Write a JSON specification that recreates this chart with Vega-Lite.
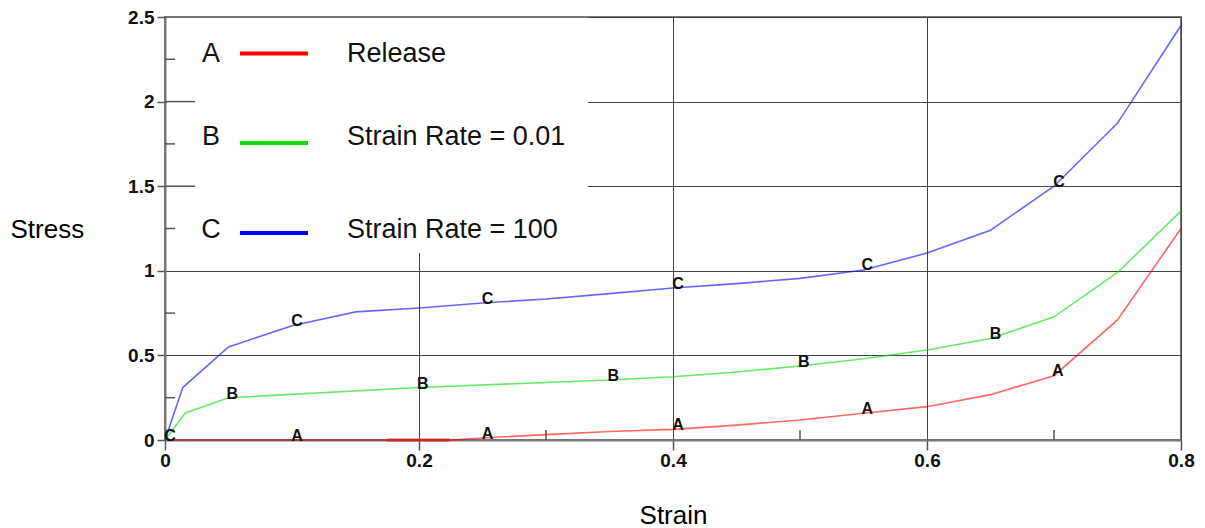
{
  "$schema": "https://vega.github.io/schema/vega-lite/v6.json",
  "width": 1016,
  "height": 423,
  "autosize": {"type": "none"},
  "padding": {"left": 165, "top": 17, "right": 24, "bottom": 88},
  "background": "white",
  "config": {
    "font": "Liberation Sans",
    "view": {"stroke": "#777", "strokeWidth": 2}
  },
  "datasets": {
    "curves": [
      {"series": "A", "x": 0, "y": 0},
      {"series": "A", "x": 0.1, "y": 0},
      {"series": "A", "x": 0.224, "y": 0},
      {"series": "A", "x": 0.25, "y": 0.012},
      {"series": "A", "x": 0.3, "y": 0.032},
      {"series": "A", "x": 0.35, "y": 0.05},
      {"series": "A", "x": 0.4, "y": 0.063},
      {"series": "A", "x": 0.45, "y": 0.088},
      {"series": "A", "x": 0.5, "y": 0.118},
      {"series": "A", "x": 0.55, "y": 0.158},
      {"series": "A", "x": 0.6, "y": 0.197},
      {"series": "A", "x": 0.65, "y": 0.268},
      {"series": "A", "x": 0.7, "y": 0.38},
      {"series": "A", "x": 0.75, "y": 0.71},
      {"series": "A", "x": 0.8, "y": 1.25},
      {"series": "B", "x": 0, "y": 0},
      {"series": "B", "x": 0.016, "y": 0.16},
      {"series": "B", "x": 0.05, "y": 0.25},
      {"series": "B", "x": 0.2, "y": 0.31},
      {"series": "B", "x": 0.35, "y": 0.355},
      {"series": "B", "x": 0.4, "y": 0.374},
      {"series": "B", "x": 0.45, "y": 0.402},
      {"series": "B", "x": 0.5, "y": 0.437},
      {"series": "B", "x": 0.55, "y": 0.48},
      {"series": "B", "x": 0.6, "y": 0.532},
      {"series": "B", "x": 0.65, "y": 0.6},
      {"series": "B", "x": 0.7, "y": 0.728},
      {"series": "B", "x": 0.75, "y": 0.99},
      {"series": "B", "x": 0.8, "y": 1.353},
      {"series": "C", "x": 0, "y": 0},
      {"series": "C", "x": 0.014, "y": 0.31},
      {"series": "C", "x": 0.05, "y": 0.55},
      {"series": "C", "x": 0.1, "y": 0.675},
      {"series": "C", "x": 0.15, "y": 0.757},
      {"series": "C", "x": 0.2, "y": 0.78},
      {"series": "C", "x": 0.25, "y": 0.81},
      {"series": "C", "x": 0.3, "y": 0.833},
      {"series": "C", "x": 0.35, "y": 0.865},
      {"series": "C", "x": 0.4, "y": 0.898},
      {"series": "C", "x": 0.45, "y": 0.924},
      {"series": "C", "x": 0.5, "y": 0.955},
      {"series": "C", "x": 0.55, "y": 1.005},
      {"series": "C", "x": 0.6, "y": 1.105},
      {"series": "C", "x": 0.65, "y": 1.24},
      {"series": "C", "x": 0.7, "y": 1.5},
      {"series": "C", "x": 0.75, "y": 1.873},
      {"series": "C", "x": 0.8, "y": 2.45}
    ],
    "labels": [
      {"series": "A", "x": 0.104, "y": 0},
      {"series": "A", "x": 0.254, "y": 0.014},
      {"series": "A", "x": 0.404, "y": 0.065},
      {"series": "A", "x": 0.553, "y": 0.16},
      {"series": "A", "x": 0.703, "y": 0.385},
      {"series": "B", "x": 0.053, "y": 0.25},
      {"series": "B", "x": 0.203, "y": 0.31},
      {"series": "B", "x": 0.353, "y": 0.356},
      {"series": "B", "x": 0.503, "y": 0.44},
      {"series": "B", "x": 0.654, "y": 0.605},
      {"series": "C", "x": 0.004, "y": 0},
      {"series": "C", "x": 0.104, "y": 0.68},
      {"series": "C", "x": 0.254, "y": 0.81},
      {"series": "C", "x": 0.404, "y": 0.9},
      {"series": "C", "x": 0.553, "y": 1.01},
      {"series": "C", "x": 0.704, "y": 1.5}
    ],
    "keyrows": [
      {"series": "A", "label": "Release", "x": 0.0362, "xa": 0.059, "xb": 0.1126, "xt": 0.1433, "y": 2.28, "ly": 2.285},
      {"series": "B", "label": "Strain Rate = 0.01", "x": 0.0362, "xa": 0.059, "xb": 0.1126, "xt": 0.1433, "y": 1.79, "ly": 1.755},
      {"series": "C", "label": "Strain Rate = 100", "x": 0.0362, "xa": 0.059, "xb": 0.1126, "xt": 0.1433, "y": 1.24, "ly": 1.223}
    ],
    "keybox": [{"x": 0.0016, "x2": 0.333, "y": 1.105, "y2": 2.495}],
    "xminor": [{"x": 0.3, "y": 0, "y2": 0.059}, {"x": 0.5, "y": 0, "y2": 0.059}, {"x": 0.7, "y": 0, "y2": 0.059}],
    "yminor": [
      {"y": 0.25, "x": 0, "x2": 0.0079},
      {"y": 0.75, "x": 0, "x2": 0.0079},
      {"y": 1.25, "x": 0, "x2": 0.0079},
      {"y": 1.75, "x": 0, "x2": 0.0079},
      {"y": 2.25, "x": 0, "x2": 0.0079},
      {"y": 1.5, "x": 0, "x2": 0.0236},
      {"y": 2, "x": 0, "x2": 0.0236}
    ],
    "overlap": [{"x": 0.175, "x2": 0.224, "y": 0}]
  },
  "encoding": {
    "x": {
      "field": "x",
      "type": "quantitative",
      "scale": {"domain": [0, 0.8], "nice": false, "zero": false},
      "axis": {
        "values": [0, 0.2, 0.4, 0.6, 0.8],
        "format": "~g",
        "grid": true,
        "gridColor": "#444",
        "gridWidth": 1,
        "domainColor": "#777",
        "domainWidth": 2,
        "tickColor": "#555",
        "tickSize": 10,
        "tickWidth": 1.5,
        "labelFont": "Liberation Sans",
        "labelFontWeight": "bold",
        "labelFontSize": 19,
        "labelColor": "#111",
        "labelPadding": 1,
        "labelFlush": false,
        "labelOverlap": false,
        "title": "Strain",
        "titleFont": "Liberation Sans",
        "titleFontSize": 26,
        "titleFontWeight": "normal",
        "titleColor": "#000",
        "titleX": 508,
        "titleY": 75,
        "titleAlign": "center",
        "titleBaseline": "middle"
      }
    },
    "y": {
      "field": "y",
      "type": "quantitative",
      "scale": {"domain": [0, 2.5], "nice": false, "zero": false},
      "axis": {
        "values": [0, 0.5, 1, 1.5, 2, 2.5],
        "format": "~g",
        "grid": true,
        "gridColor": "#444",
        "gridWidth": 1,
        "domainColor": "#777",
        "domainWidth": 2,
        "tickColor": "#555",
        "tickSize": 8,
        "tickWidth": 1.5,
        "labelFont": "Liberation Sans",
        "labelFontWeight": "bold",
        "labelFontSize": 19,
        "labelColor": "#111",
        "labelPadding": 3,
        "labelOverlap": false,
        "title": "Stress",
        "titleFont": "Liberation Sans",
        "titleFontSize": 26,
        "titleFontWeight": "normal",
        "titleColor": "#000",
        "titleAngle": 0,
        "titleAlign": "left",
        "titleBaseline": "middle",
        "titleX": -155,
        "titleY": 212
      }
    }
  },
  "layer": [
    {
      "data": {"name": "keybox"},
      "mark": {"type": "rect", "fill": "white"},
      "encoding": {
        "x2": {"field": "x2"},
        "y2": {"field": "y2"}
      }
    },
    {
      "data": {"name": "xminor"},
      "mark": {"type": "rule", "color": "#555", "strokeWidth": 1.5},
      "encoding": {
        "y2": {"field": "y2"}
      }
    },
    {
      "data": {"name": "yminor"},
      "mark": {"type": "rule", "color": "#555", "strokeWidth": 1.5},
      "encoding": {
        "x2": {"field": "x2"}
      }
    },
    {
      "data": {"name": "overlap"},
      "mark": {"type": "rule", "color": "#b03838", "strokeWidth": 3, "opacity": 0.8},
      "encoding": {
        "x2": {"field": "x2"}
      }
    },
    {
      "data": {"name": "curves"},
      "mark": {"type": "line", "strokeWidth": 1.6, "strokeOpacity": 0.6},
      "encoding": {
        "color": {
          "field": "series",
          "type": "nominal",
          "scale": {"domain": ["A", "B", "C"], "range": ["#ff0000", "#00dd00", "#0000ff"]},
          "legend": null
        },
        "order": {"field": "x", "type": "quantitative"}
      }
    },
    {
      "data": {"name": "labels"},
      "mark": {"type": "text", "font": "Liberation Sans", "fontWeight": "bold", "fontSize": 16, "color": "#111", "align": "center", "baseline": "alphabetic", "dy": 1},
      "encoding": {
        "text": {"field": "series"}
      }
    },
    {
      "data": {"name": "keyrows"},
      "mark": {"type": "rule", "strokeWidth": 4},
      "encoding": {
        "x": {"field": "xa", "type": "quantitative"},
        "x2": {"field": "xb"},
        "y": {"field": "ly", "type": "quantitative"},
        "color": {
          "field": "series",
          "type": "nominal",
          "scale": {"domain": ["A", "B", "C"], "range": ["#ff0000", "#00dd00", "#0000ff"]},
          "legend": null
        }
      }
    },
    {
      "data": {"name": "keyrows"},
      "mark": {"type": "text", "font": "Liberation Sans", "fontSize": 27, "color": "#111", "align": "center", "baseline": "middle"},
      "encoding": {
        "text": {"field": "series"}
      }
    },
    {
      "data": {"name": "keyrows"},
      "mark": {"type": "text", "font": "Liberation Sans", "fontSize": 27, "color": "#111", "align": "left", "baseline": "middle"},
      "encoding": {
        "x": {"field": "xt", "type": "quantitative"},
        "text": {"field": "label"}
      }
    }
  ]
}
